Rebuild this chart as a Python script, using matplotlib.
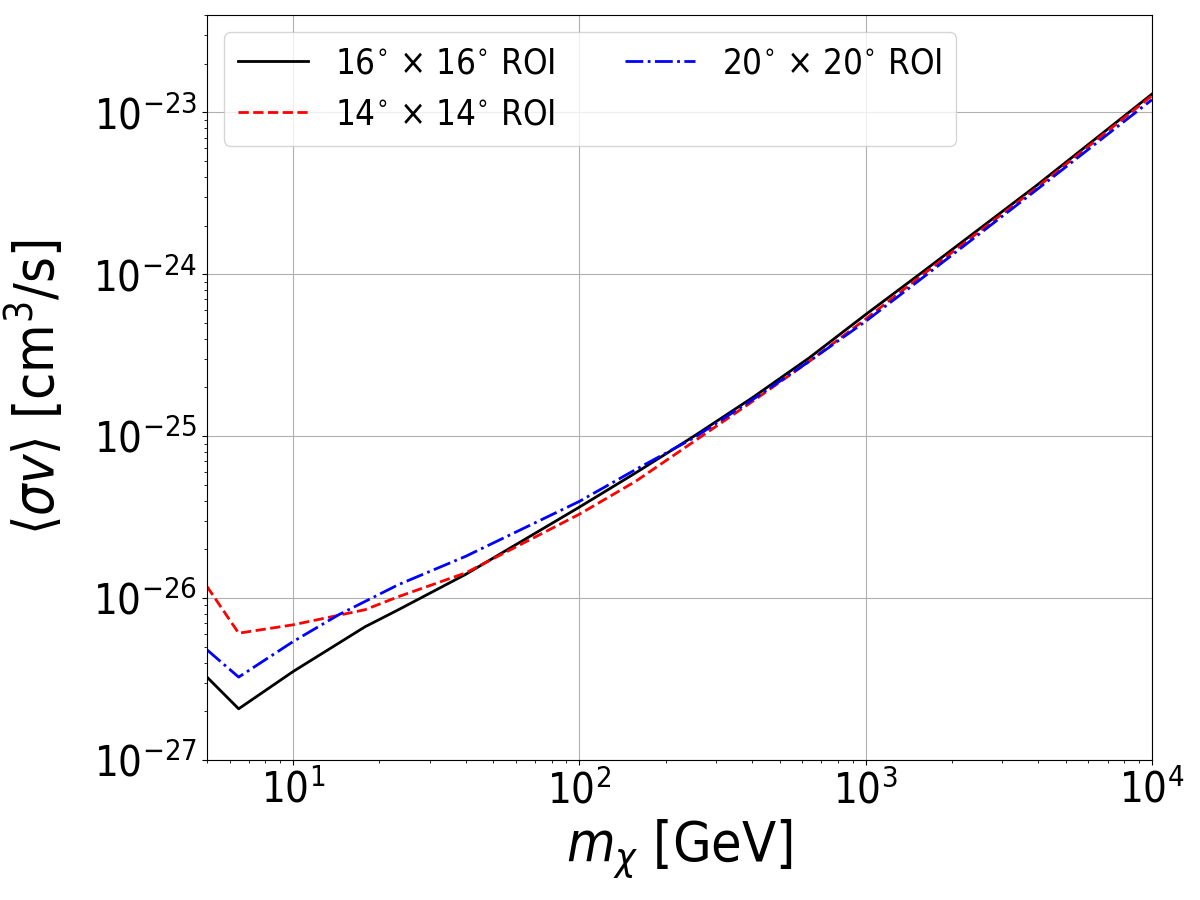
import matplotlib
matplotlib.use("Agg")
import matplotlib.pyplot as plt
from matplotlib.ticker import NullFormatter

# the reference text looks narrower than plain DejaVu, so use the condensed cut
plt.rcParams['font.stretch'] = 'condensed'
plt.rcParams['mathtext.fontset'] = 'custom'
plt.rcParams['mathtext.rm'] = 'DejaVu Sans:stretch=condensed'
plt.rcParams['mathtext.it'] = 'DejaVu Sans:italic:stretch=condensed'
plt.rcParams['mathtext.bf'] = 'DejaVu Sans:bold:stretch=condensed'

# dark matter mass [GeV]
mass_16 = [5, 6.45, 10, 17.8, 23.3, 40, 100, 157, 251, 402, 635, 1000, 1540, 3927, 10000]
sigv_16 = [3.25e-27, 2.07e-27, 3.52e-27, 6.64e-27, 8.47e-27, 1.40e-26, 3.65e-26,
           5.93e-26, 1.0e-25, 1.73e-25, 3.05e-25, 5.65e-25, 1.0e-24, 3.51e-24, 1.30e-23]

mass_14 = [5, 6.45, 10, 17.8, 23.3, 40, 100, 157, 251, 402, 635, 1000, 1540, 3927, 10000]
sigv_14 = [1.18e-26, 6.07e-27, 6.84e-27, 8.47e-27, 1.02e-26, 1.43e-26, 3.30e-26,
           5.26e-26, 9.27e-26, 1.64e-25, 2.90e-25, 5.30e-25, 9.6e-25, 3.40e-24, 1.27e-23]

mass_20 = [5, 6.45, 10, 14.4, 23.3, 40, 100, 157, 251, 402, 635, 1000, 1540, 3927, 10000]
sigv_20 = [4.79e-27, 3.25e-27, 5.39e-27, 7.88e-27, 1.21e-26, 1.81e-26, 3.96e-26,
           6.22e-26, 9.77e-26, 1.68e-25, 2.90e-25, 5.13e-25, 9.2e-25, 3.30e-24, 1.20e-23]

fig = plt.figure(figsize=(12, 9), dpi=100)
ax = fig.add_axes([0.1725, 0.1556, 0.7875, 0.8277])

ax.plot(mass_16, sigv_16, color="black", ls="-", lw=2, label=r"16$^{\circ}$ $\times$ 16$^{\circ}$ ROI")
ax.plot(mass_14, sigv_14, color="red", ls="--", lw=2, label=r"14$^{\circ}$ $\times$ 14$^{\circ}$ ROI")
ax.plot(mass_20, sigv_20, color="blue", ls="-.", lw=2, label=r"20$^{\circ}$ $\times$ 20$^{\circ}$ ROI")

ax.set_xscale("log")
ax.set_yscale("log")
ax.set_xlim(5, 1e4)
ax.set_ylim(1e-27, 4e-23)
ax.xaxis.set_minor_formatter(NullFormatter())
ax.yaxis.set_minor_formatter(NullFormatter())
ax.grid(True)
ax.tick_params(labelsize=30)
ax.set_xlabel(r"$m_\chi$ [GeV]", fontsize=40)
ax.set_ylabel(r"$\langle \sigma v \rangle$ [cm$^3$/s]", fontsize=40)
ax.yaxis.set_label_coords(-0.148, 0.5)
ax.legend(loc="upper left", ncol=2, fontsize=25)

fig.savefig("out.png", dpi=100)
